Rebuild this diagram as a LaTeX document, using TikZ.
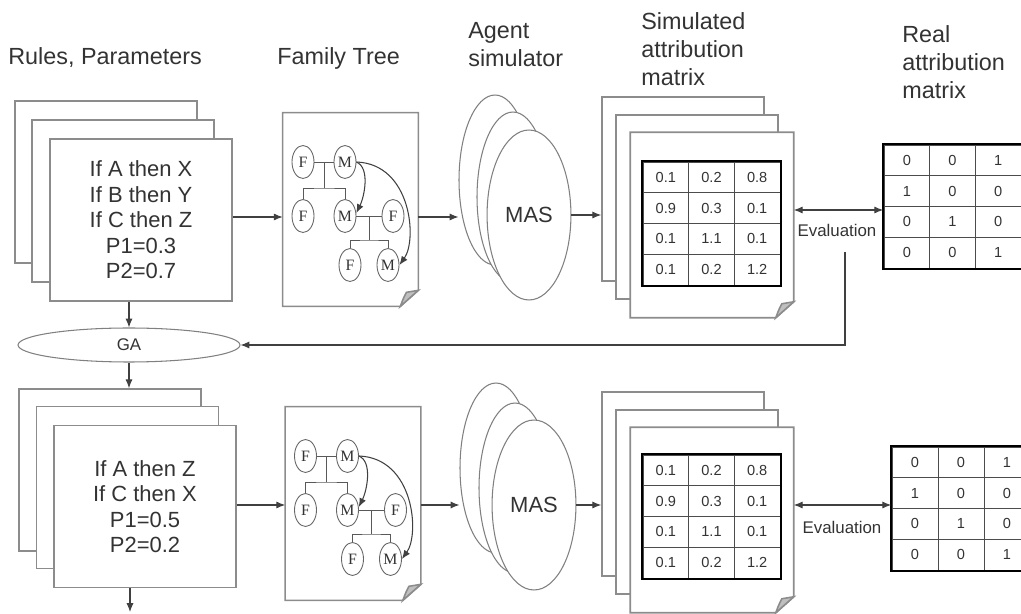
\documentclass[tikz,border=0pt]{standalone}
\usepackage{fontspec}
\setmainfont{Liberation Sans}
\newfontfamily\treefont{Liberation Serif}
\usetikzlibrary{shapes.geometric,arrows.meta,matrix}

\newcommand{\docshape}[1]{%
  \draw[docline,fill=white](#1.north west)--(#1.north east)--([yshift=0.32cm]#1.south east)
    --([xshift=-0.36cm]#1.south east)--(#1.south west)--cycle;
  \draw[docline,fill=black!25]([yshift=0.32cm]#1.south east)--([xshift=-0.24cm,yshift=0.28cm]#1.south east)
    ..controls([xshift=-0.3cm,yshift=0.16cm]#1.south east)..([xshift=-0.36cm]#1.south east)--cycle;}

\newcommand{\famtree}[3]{%
  \begin{scope}[shift={(#2,#3)}]
    \node(#1f1)at(-47.5,-47.5)[person]{F};
    \node(#1m1)at(-5.5,-47.5)[person]{M};
    \node(#1f2)at(-47.5,6.5)[person]{F};
    \node(#1m2)at(-5.5,6.5)[person]{M};
    \node(#1f3)at(42.5,6.5)[person]{F};
    \node(#1f4)at(-0.5,55.5)[person]{F};
    \node(#1m4)at(37.5,55.5)[person]{M};
    \coordinate(#1j1)at(-26.5,-21.5);
    \coordinate(#1j2)at(18.5,30.5);
    \draw[link](#1f1)--(#1m1);
    \draw[link](#1j1|-#1m1)--(#1j1);
    \draw[link](#1f2.north)|-(#1j1)-|(#1m2.north);
    \draw[link](#1m2)--(#1f3);
    \draw[link](#1j2|-#1f3)--(#1j2);
    \draw[link](#1f4.north)|-(#1j2)-|(#1m4.north);
    \draw[arr](#1m1.east)..controls+(14,6)and+(8,-16)..(#1m2.15);
    \draw[arr](#1m1.east)..controls+(55,2)and+(18,-25)..(#1m4.east);
  \end{scope}}

\begin{document}
\begin{tikzpicture}[x=0.02cm,y=-0.02cm]
  \tikzstyle{every node}=[text=black!80]
  \tikzstyle{title}=[anchor=north west,inner sep=0,align=left,font=\fontsize{13.3}{16}\selectfont]
  \tikzstyle{docline}=[draw=black!45,line width=0.9pt]
  \tikzstyle{sheet}=[docline,fill=white,minimum width=3.64cm,minimum height=3.24cm]
  \tikzstyle{rules}=[sheet,align=center,font=\fontsize{12.5}{14.5}\selectfont]
  \tikzstyle{page}=[minimum width=2.7cm,minimum height=3.86cm]
  \tikzstyle{person}=[ellipse,draw=black!60,line width=0.5pt,inner sep=0,minimum width=0.44cm,minimum height=0.66cm,font=\treefont\fontsize{9}{9}\selectfont]
  \tikzstyle{link}=[draw=black!65,line width=0.5pt]
  \tikzstyle{agent}=[ellipse,draw=black!50,line width=0.6pt,fill=white,minimum width=1.44cm,minimum height=3.4cm]
  \tikzstyle{simsheet}=[docline,fill=white,minimum width=3.24cm,minimum height=3.68cm]
  \tikzstyle{tab}=[matrix of nodes,inner sep=0,column sep=-0.5pt,row sep=-0.5pt,nodes={draw=black!70,line width=0.5pt,inner sep=0,minimum width=0.914cm,minimum height=0.615cm,font=\fontsize{8.3}{8.3}\selectfont}]
  \tikzstyle{frame}=[draw=black,line width=1.4pt]
  \tikzstyle{arr}=[draw=black!75,line width=0.6pt,-{Latex[length=5pt,width=4pt]}]
  \tikzstyle{both}=[draw=black!75,line width=0.6pt,{Latex[length=5pt,width=4pt]}-{Latex[length=5pt,width=4pt]}]
  \tikzstyle{small}=[font=\fontsize{9.6}{9.6}\selectfont]

  \clip(0,0)rectangle(1021,614);

  \node(tR)at(8,47)[title]{Rules, Parameters};
  \node(tF)at(277,47)[title]{Family Tree};
  \node(tG)at(468,22)[title]{Agent\\simulator};
  \node(tS)at(641,12)[title]{Simulated\\attribution\\matrix};
  \node(tM)at(902,25)[title]{Real\\attribution\\matrix};

  \node(rA3)at(106,182)[sheet]{};
  \node(rA2)at(123,201)[sheet]{};
  \node(rA1)at(141,220)[rules]{If A then X\\If B then Y\\If C then Z\\P1=0.3\\P2=0.7};

  \node(ftA)at(350.5,209.5)[page]{};
  \docshape{ftA}
  \famtree{a}{350.5}{209.5}

  \node(mA3)at(495,180)[agent]{};
  \node(mA2)at(513,197)[agent]{};
  \node(mA1)at(529,215)[agent,font=\fontsize{12.5}{12.5}\selectfont]{MAS};

  \node(sA3)at(683,189)[simsheet]{};
  \node(sA2)at(697,207)[simsheet]{};
  \node(sA1)at(712,225)[simsheet,draw=none,fill=none]{};
  \docshape{sA1}
  \matrix(tA)[tab]at(711.5,223.5){0.1&0.2&0.8\\0.9&0.3&0.1\\0.1&1.1&0.1\\0.1&0.2&1.2\\};
  \draw[frame](tA.north west)rectangle(tA.south east);

  \matrix(kA)[tab]at(952.5,206.5){0&0&1\\1&0&0\\0&1&0\\0&0&1\\};
  \draw[frame](kA.north west)rectangle(kA.south east);

  \node(evA)at(837,230)[small]{Evaluation};
  \node(gA)at(129,345)[ellipse,draw=black!50,line width=0.6pt,minimum width=4.44cm,minimum height=0.68cm,small]{GA};

  \coordinate(yA)at(0,217);
  \coordinate(yE)at(0,210);
  \draw[arr](rA1.east|-yA)--(ftA.west|-yA);
  \draw[arr](ftA.east|-yA)--(mA3.west|-yA);
  \draw[arr](mA1.east)--(mA1.east-|sA3.west);
  \draw[both](sA1.east|-yE)--(kA.west|-yE);
  \draw[arr]([xshift=0.16cm,yshift=-0.2cm]evA.south)|-(gA.east);
  \draw[arr](gA.north|-rA1.south)--(gA.north);

  \node(rB3)at(110,470)[sheet]{};
  \node(rB2)at(127.5,487.5)[sheet]{};
  \node(rB1)at(145,506.5)[rules]{If A then Z\\If C then X\\P1=0.5\\P2=0.2};

  \node(ftB)at(353,503.5)[page]{};
  \docshape{ftB}
  \famtree{b}{353}{503.5}

  \node(mB3)at(496,468)[agent]{};
  \node(mB2)at(515,488)[agent]{};
  \node(mB1)at(534,505)[agent,font=\fontsize{12.5}{12.5}\selectfont]{MAS};

  \node(sB3)at(683,484)[simsheet]{};
  \node(sB2)at(697,502)[simsheet]{};
  \node(sB1)at(712,520)[simsheet,draw=none,fill=none]{};
  \docshape{sB1}
  \matrix(tB)[tab]at(711.5,516.5){0.1&0.2&0.8\\0.9&0.3&0.1\\0.1&1.1&0.1\\0.1&0.2&1.2\\};
  \draw[frame](tB.north west)rectangle(tB.south east);

  \matrix(kB)[tab,nodes={minimum width=0.92cm}]at(961,508.5){0&0&1\\1&0&0\\0&1&0\\0&0&1\\};
  \draw[frame](kB.north west)rectangle(kB.south east);

  \node(evB)at(842,527)[small]{Evaluation};

  \coordinate(yB)at(0,505);
  \coordinate(next)at(130,612);
  \draw[arr](gA.south)--(gA.south|-rB3.north);
  \draw[arr](rB1.east|-yB)--(ftB.west|-yB);
  \draw[arr](ftB.east|-yB)--(mB3.west|-yB);
  \draw[arr](mB1.east)--(mB1.east-|sB3.west);
  \draw[both](sB1.east|-yB)--(kB.west|-yB);
  \draw[arr](next|-rB1.south)--(next);
\end{tikzpicture}
\end{document}
